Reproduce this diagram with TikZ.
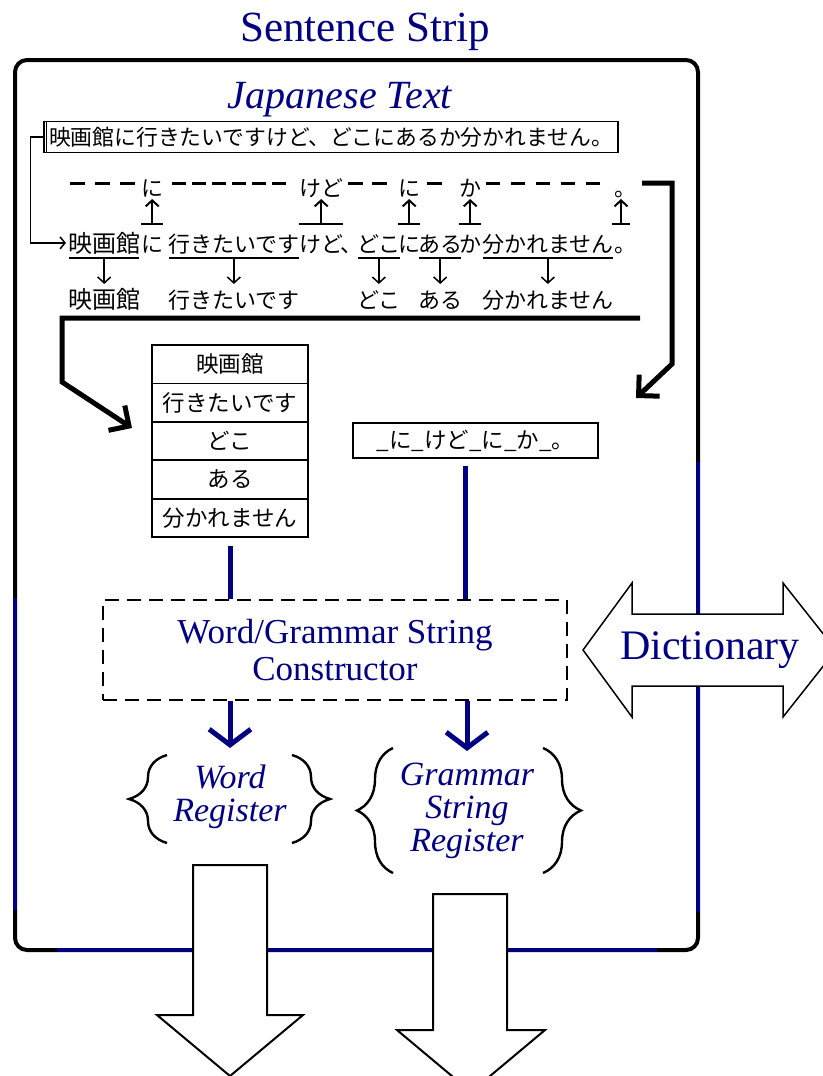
\documentclass[tikz,border=0pt]{standalone}
\usepackage{fontspec}
\setmainfont{Liberation Serif}
\newfontfamily\jpfont{Noto Sans CJK JP}
\usetikzlibrary{arrows.meta,decorations.pathreplacing,calc}
\definecolor{navy}{RGB}{0,0,128}
\begin{document}
\begin{tikzpicture}[x=1pt,y=-1pt,
  jp/.style={font={\jpfont\fontsize{22}{24}\selectfont}, inner sep=0pt},
  jpwide/.style={font={\jpfont\fontsize{24}{26}\selectfont}, inner sep=0pt},
  heading/.style={text=navy, inner sep=0pt},
  stripbox/.style={line width=4pt, rounded corners=12pt},
  blueedge/.style={navy, line width=3.5pt},
  uline/.style={line width=1.5pt},
  downarr/.style={line width=1.5pt, -{Straight Barb[length=6pt,width=13pt]}},
  tbar/.style={line width=2.2pt},
  uparr/.style={line width=2pt, -{Straight Barb[length=6pt,width=13pt]}},
  dashseg/.style={line width=3pt},
  hook/.style={line width=5pt, -{Straight Barb[angle=90:21pt]}},
  thinarr/.style={line width=1.5pt, -{Straight Barb[length=5pt,width=12pt]}},
  cell/.style={draw, line width=1.8pt, minimum width=156pt, minimum height=38.4pt, inner sep=0pt, font={\jpfont\fontsize{22.5}{24}\selectfont}},
  grambox/.style={draw, line width=1.8pt, minimum width=245pt, minimum height=35pt, inner sep=0pt, font={\jpfont\fontsize{22.5}{24}\selectfont}},
  consbox/.style={draw, line width=2pt, dash pattern=on 14pt off 8pt, minimum width=464pt, minimum height=100pt, align=center, text=navy, font={\fontsize{35}{37}\selectfont}},
  bluelink/.style={navy, line width=5pt},
  bluearr/.style={navy, line width=5pt, -{Straight Barb[angle=106:26pt]}},
  reg/.style={text=navy, align=center, inner sep=0pt, font={\itshape\fontsize{34}{33}\selectfont}},
  regbrace/.style={decorate, decoration={brace, amplitude=38pt}, line width=2.4pt},
  bigarrow/.style={draw, line width=2pt, fill=white, line join=miter},
]
\useasboundingbox (0,0) rectangle (822,1076);
\fill[white] (0,0) rectangle (822,1076);

% helper levels
\coordinate (r1y) at (0,196);
\coordinate (upy) at (0,199);
\coordinate (bary) at (0,224);
\coordinate (uly) at (0,258);
\coordinate (dny) at (0,284);
\coordinate (r3y) at (0,308);
\coordinate (wrtip) at (0,748);
\coordinate (grtip) at (0,751);

% title and strip
\node[heading, font={\fontsize{43}{46}\selectfont}] (title) at (365,32) {Sentence Strip};
\draw[stripbox] (15,60) rectangle (698,950);
\draw[blueedge] (15,598) -- (15,910);
\draw[blueedge] (57,950) -- (657,950);
\draw[blueedge] (698,462) -- (698,912);

\node[heading, font={\itshape\fontsize{40}{42}\selectfont}] (jt) at (340,100) {Japanese Text};

% sentence box
\node[draw, line width=1.5pt, minimum width=574pt, minimum height=31pt, inner sep=0pt,
      font={\jpfont\fontsize{21.8}{24}\selectfont}] (sent) at (331,137)
      {映画館に行きたいですけど、どこにあるか分かれません。};
\draw[line width=1.5pt] ([xshift=3pt]sent.north west) -- ([xshift=3pt]sent.south west);

% row 2: segmented sentence
\node[jpwide, anchor=base west] (s1) at (68,252) {映画館};
\node[jp, anchor=base west] (p1) at (141,252) {に};
\node[jp, anchor=base west] (s2) at (168,252) {行きたいです};
\node[jp, anchor=base west] (p2) at (299,252) {けど};
\node[jp, anchor=base west] (cm) at (340,252) {、};
\node[jp, anchor=base west] (s3) at (357,252) {どこ};
\node[jp, anchor=base west] (p3) at (398,252) {に};
\node[jp, anchor=base west] (s4) at (418,252) {ある};
\node[jp, anchor=base west] (p4) at (459,252) {か};
\node[jp, anchor=base west] (s5) at (482,252) {分かれません};
\node[jp, anchor=base west] (p5) at (614,252) {。};

\draw[thinarr] (sent.west) -- ++(-13,0) |- ([xshift=-2pt]s1.west);

% row 3: words
\node[jpwide, anchor=base] (w1) at (s1.base |- r3y) {映画館};
\node[jp, anchor=base] (w2) at (s2.base |- r3y) {行きたいです};
\node[jp, anchor=base] (w3) at (s3.base |- r3y) {どこ};
\node[jp, anchor=base] (w4) at (s4.base |- r3y) {ある};
\node[jp, anchor=base] (w5) at (s5.base |- r3y) {分かれません};

\foreach \s/\w in {s1/w1,s2/w2,s3/w3,s4/w4,s5/w5}{
  \draw[uline, shorten <=1pt, shorten >=1pt] (\s.west |- uly) -- (\s.east |- uly);
  \draw[downarr] (\s |- uly) -- (\w |- dny);
}

% row 1: particles
\node[jp, anchor=base] (r1) at (p1.base |- r1y) {に};
\node[jp, anchor=base] (r2) at (p2.base |- r1y) {けど};
\node[jp, anchor=base] (r3) at (p3.base |- r1y) {に};
\node[jp, anchor=base] (r4) at (p4.base |- r1y) {か};
\node[jp, anchor=base west] (r5) at (p5.base west |- r1y) {。};

\foreach \p/\r in {p1/r1,p2/r2,p3/r3,p4/r4}{
  \draw[tbar] (\p.west |- bary) -- (\p.east |- bary);
  \draw[uparr] (\p |- bary) -- (\r |- upy);
}
\draw[tbar] ($(p5.west |- bary)+(-2,0)$) -- ($(p5.west |- bary)+(16,0)$);
\draw[uparr] ($(p5.west |- bary)+(7,0)$) -- ($(p5.west |- upy)+(7,0)$);

% dashes of row 1
\foreach \x/\n/\l/\q in {70/3/15/25, 172/6/14/20, 348/2/15/24, 427/1/15/24, 486/5/14/25}{
  \foreach \k in {1,...,\n}{
    \draw[dashseg] ({\x+(\k-1)*\q},183) -- ({\x+(\k-1)*\q+\l},183);
  }
}

% hooks
\coordinate (hr0) at (642,183);
\coordinate (hr1) at (636,398);
\draw[hook] (hr0) -- (672,183) -- (672,364) -- (hr1);
\coordinate (hl0) at (640,318);
\coordinate (hl1) at (132,428);
\draw[hook] (hl0) -- (62,318) -- (62,382) -- (hl1);

% word table
\foreach \t [count=\i] in {映画館,行きたいです,どこ,ある,分かれません}{
  \node[cell] (t\i) at (230,{345+38.4*\i-19.2}) {\t};
}

% grammar string box
\node[grambox] (gram) at (475.5,440.5) {\_に\_けど\_に\_か\_。};

% constructor
\node[consbox] (cons) at (335,650) {Word/Grammar String\\Constructor};

\draw[bluelink, shorten <=8pt] (t5.south) -- (t5.south |- cons.north);
\draw[bluelink, shorten <=7pt] ($(gram.south)+(-10,0)$) -- ($(gram.south |- cons.north)+(-10,0)$);

% dictionary
\draw[bigarrow, line width=1.5pt] (583,650) -- (632,583) -- (632,614) -- (783,614) -- (783,583)
  -- (836,650) -- (783,717) -- (783,686) -- (632,686) -- (632,717) -- cycle;
\node[heading, font={\fontsize{42}{44}\selectfont}] (dict) at (710,650) {Dictionary};

% registers
\node[reg] (wr) at (230,797) {Word\\Register};
\node[reg] (gr) at (467,811) {Grammar\\String\\Register};

\draw[bluearr] (cons.south -| wr) -- (wr |- wrtip);
\draw[bluearr] (cons.south -| gr) -- (gr |- grtip);

\draw[regbrace] (167,843) -- (167,755);
\draw[regbrace] (292,755) -- (292,843);
\draw[regbrace, decoration={amplitude=36pt}] (393,873) -- (393,748);
\draw[regbrace] (543,748) -- (543,873);

% output arrows
\draw[bigarrow] (193,865) -- (267,865) -- (267,1015) -- (303,1015) -- (230,1076)
  -- (157,1015) -- (193,1015) -- cycle;
\draw[bigarrow] (433,894) -- (507,894) -- (507,1030) -- (545,1030) -- (471,1092)
  -- (397,1030) -- (433,1030) -- cycle;
\end{tikzpicture}
\end{document}
